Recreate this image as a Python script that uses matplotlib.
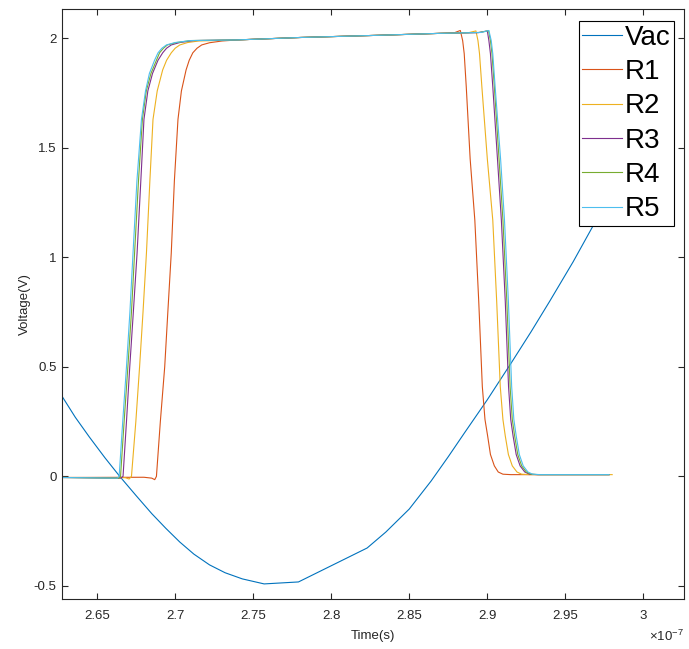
import matplotlib
matplotlib.use("Agg")
import matplotlib.pyplot as plt
import numpy as np
from matplotlib.ticker import FixedLocator, FuncFormatter

plt.rcParams['font.family'] = ['Liberation Sans', 'DejaVu Sans']
plt.rcParams['mathtext.fontset'] = 'custom'
plt.rcParams['mathtext.rm'] = 'Liberation Sans'

# times in units of 1e-7 s, voltages in V
vac_t = [2.6275, 2.636, 2.645, 2.655, 2.6645, 2.675, 2.685, 2.694, 2.703,
         2.712, 2.722, 2.732, 2.743, 2.757, 2.779, 2.823, 2.835, 2.850,
         2.864, 2.875, 2.8855, 2.90, 2.9155, 2.928, 2.94, 2.955, 2.969, 2.98]
vac_v = [0.366, 0.27, 0.18, 0.085, 0.0, -0.088, -0.17, -0.237, -0.30,
         -0.355, -0.404, -0.44, -0.468, -0.491, -0.482, -0.327, -0.254, -0.149,
         -0.021, 0.09, 0.20, 0.35, 0.52, 0.66, 0.80, 0.98, 1.16, 1.29]

r1_t = [2.6275, 2.680, 2.685, 2.6869, 2.688, 2.6905, 2.6933, 2.6953, 2.6975,
        2.6995, 2.7018, 2.704, 2.707, 2.709, 2.7113, 2.714, 2.717, 2.722,
        2.73, 2.74, 2.78, 2.83, 2.87, 2.879, 2.8827, 2.8842, 2.8852, 2.8865,
        2.889, 2.892, 2.8945, 2.8968, 2.8985, 2.9002, 2.902, 2.9045, 2.907,
        2.910, 2.915, 2.978]
r1_v = [-0.005, -0.004, -0.008, -0.015, 0.0, 0.25, 0.5, 0.75, 1.02,
        1.35, 1.63, 1.76, 1.856, 1.90, 1.934, 1.955, 1.97, 1.98,
        1.988, 1.993, 2.004, 2.014, 2.023, 2.026, 2.036, 1.99, 1.93, 1.78,
        1.45, 1.17, 0.8, 0.41, 0.26, 0.185, 0.1, 0.048, 0.02,
        0.01, 0.008, 0.008]

r2_t = [2.6275, 2.668, 2.6705, 2.672, 2.6748, 2.6772, 2.6794, 2.6816, 2.6838,
        2.6858, 2.6885, 2.692, 2.6945, 2.6975, 2.700, 2.703, 2.708, 2.715,
        2.74, 2.78, 2.83, 2.87, 2.888, 2.8927, 2.894, 2.895, 2.8965, 2.900,
        2.9035, 2.906, 2.9083, 2.910, 2.9115, 2.9135, 2.916, 2.919, 2.922,
        2.927, 2.98]
r2_v = [-0.005, -0.006, -0.012, 0.0, 0.25, 0.5, 0.75, 1.02, 1.35,
        1.63, 1.76, 1.856, 1.90, 1.934, 1.955, 1.97, 1.981, 1.988,
        1.993, 2.004, 2.014, 2.023, 2.026, 2.034, 1.99, 1.93, 1.78, 1.45,
        1.17, 0.8, 0.41, 0.26, 0.185, 0.1, 0.048, 0.02, 0.01,
        0.008, 0.008]

r3_t = [2.6275, 2.665, 2.6666, 2.6688, 2.6709, 2.6732, 2.6756, 2.678, 2.680,
        2.6825, 2.6855, 2.689, 2.692, 2.6945, 2.6975, 2.703, 2.712, 2.74,
        2.78, 2.83, 2.87, 2.894, 2.900, 2.901, 2.902, 2.9035, 2.9065, 2.909,
        2.9115, 2.9136, 2.915, 2.9165, 2.9185, 2.921, 2.924, 2.927, 2.932, 2.978]
r3_v = [-0.005, -0.008, 0.0, 0.25, 0.5, 0.75, 1.02, 1.35, 1.63,
        1.76, 1.84, 1.90, 1.934, 1.955, 1.97, 1.981, 1.99, 1.993,
        2.004, 2.014, 2.023, 2.026, 2.034, 1.99, 1.93, 1.78, 1.45, 1.17,
        0.8, 0.41, 0.26, 0.185, 0.1, 0.048, 0.02, 0.01, 0.008, 0.008]

r4_t = [2.6275, 2.664, 2.665, 2.6673, 2.6697, 2.672, 2.674, 2.6765, 2.679,
        2.6815, 2.6845, 2.688, 2.690, 2.6925, 2.695, 2.701, 2.71, 2.74,
        2.78, 2.83, 2.87, 2.895, 2.9008, 2.902, 2.903, 2.9045, 2.9075, 2.910,
        2.9125, 2.9146, 2.916, 2.9175, 2.9195, 2.922, 2.925, 2.928, 2.933, 2.978]
r4_v = [-0.005, -0.008, 0.0, 0.25, 0.5, 0.75, 1.02, 1.35, 1.63,
        1.76, 1.84, 1.90, 1.934, 1.955, 1.97, 1.981, 1.99, 1.993,
        2.004, 2.014, 2.023, 2.027, 2.035, 1.99, 1.93, 1.78, 1.45, 1.17,
        0.8, 0.41, 0.26, 0.185, 0.1, 0.048, 0.02, 0.01, 0.008, 0.008]

r5_t = [2.6275, 2.663, 2.6641, 2.6664, 2.6688, 2.671, 2.673, 2.6755, 2.6784,
        2.681, 2.6835, 2.6868, 2.689, 2.6915, 2.6944, 2.700, 2.71, 2.74,
        2.78, 2.83, 2.87, 2.896, 2.901, 2.9025, 2.9035, 2.905, 2.9085, 2.911,
        2.9135, 2.9156, 2.917, 2.9185, 2.9205, 2.923, 2.926, 2.929, 2.934, 2.978]
r5_v = [-0.005, -0.008, 0.0, 0.25, 0.5, 0.75, 1.02, 1.35, 1.63,
        1.76, 1.84, 1.90, 1.934, 1.955, 1.97, 1.981, 1.99, 1.993,
        2.004, 2.014, 2.023, 2.027, 2.036, 1.99, 1.93, 1.78, 1.45, 1.17,
        0.8, 0.41, 0.26, 0.185, 0.1, 0.048, 0.02, 0.01, 0.008, 0.008]

labels = ['Vac', 'R1', 'R2', 'R3', 'R4', 'R5']
colors = ['#0072BD', '#D95319', '#EDB120', '#7E2F8E', '#77AC30', '#4DBEEE']
series = [(vac_t, vac_v), (r1_t, r1_v), (r2_t, r2_v),
          (r3_t, r3_v), (r4_t, r4_v), (r5_t, r5_v)]

xticks = [2.65, 2.7, 2.75, 2.8, 2.85, 2.9, 2.95, 3.0]
yticks = [-0.5, 0, 0.5, 1, 1.5, 2]

fig = plt.figure(figsize=(6.89, 6.49), dpi=100)
ax = fig.add_axes([0.090, 0.077, 0.9027, 0.9091])

for (t, v), lab, c in zip(series, labels, colors):
    ax.plot(np.array(t) * 1e-7, v, color=c, lw=0.8, label=lab)

ax.set_xlim(2.6275e-7, 3.026e-7)
ax.set_ylim(-0.56, 2.134)
ax.xaxis.set_major_locator(FixedLocator([x * 1e-7 for x in xticks]))
ax.yaxis.set_major_locator(FixedLocator(yticks))
ax.xaxis.set_major_formatter(FuncFormatter(lambda x, p: '%g' % round(x * 1e7, 4)))
ax.yaxis.set_major_formatter(FuncFormatter(lambda y, p: '%g' % y))

axcol = '#262626'
ax.tick_params(direction='in', top=True, right=True, length=4, width=0.8,
               colors=axcol, labelsize=9.5)
ax.tick_params(axis='x', pad=8)
ax.tick_params(axis='y', pad=4)
for s in ax.spines.values():
    s.set_color(axcol)
    s.set_linewidth(0.8)
ax.text(1.0, -0.063, r'$\times10^{-7}$', transform=ax.transAxes,
        ha='right', va='center', fontsize=9.5, color=axcol)

ax.set_xlabel('Time(s)', fontsize=9.5, color=axcol, labelpad=6)
ax.set_ylabel('Voltage(V)', fontsize=9.5, color=axcol, labelpad=2)

leg = ax.legend(loc='upper right', bbox_to_anchor=(0.984, 0.979),
                fontsize=20, frameon=True, fancybox=False,
                edgecolor='black', framealpha=1, borderpad=0.12,
                labelspacing=0.3, handlelength=1.44, handletextpad=0.1,
                borderaxespad=0.0)
leg.get_frame().set_linewidth(0.8)

fig.savefig('out.png', dpi=100)
